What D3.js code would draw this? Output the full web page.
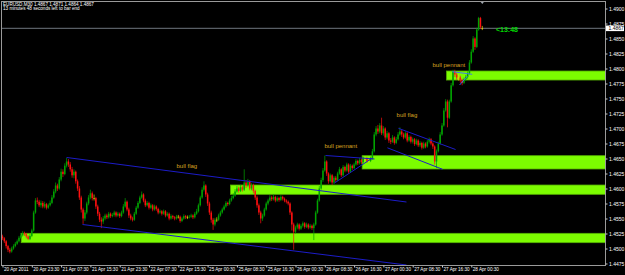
<!DOCTYPE html>
<html>
<head>
<meta charset="utf-8">
<script src="https://cdn.jsdelivr.net/npm/d3@7/dist/d3.min.js"></script>
<style>
  html, body { margin: 0; padding: 0; background: #000; overflow: hidden; }
  svg text { font-family: "Liberation Sans", Arial, sans-serif; }
</style>
</head>
<body>
<svg id="chart" width="625" height="275"></svg>
<script>
// EURUSD M30 — prices stored as pips above 1.4400
const base = 1.44, pip = 0.0001;

const opens = [
  120,117,112,104,98,95,100,104,108,112,118,122,126,124,120,116,121,130,160,180,
  178,172,176,170,174,168,172,176,185,195,205,200,215,228,224,238,245,240,232,222,
  228,212,200,185,165,150,160,175,185,192,184,184,170,158,148,145,150,155,152,158,
  154,156,160,155,158,154,160,170,178,165,155,150,148,158,168,176,185,190,180,172,
  176,168,172,165,170,166,160,162,158,162,155,158,150,154,152,150,153,153,146,150,
  154,152,152,153,155,152,158,162,172,185,198,205,190,175,160,148,140,148,148,155,
  160,165,170,176,174,180,184,188,195,200,196,202,198,210,205,212,200,206,196,185,
  172,160,150,155,165,175,180,185,182,186,180,184,181,186,183,180,178,175,160,140,
  128,135,140,133,138,142,136,140,135,138,134,140,160,180,200,214,230,245,225,212,
  222,210,218,214,225,232,222,236,230,240,228,238,234,240,246,242,248,244,250,250,
  246,246,250,262,290,300,295,305,292,300,285,292,280,278,285,276,282,290,295,290,
  285,292,280,286,278,282,274,280,272,276,268,275,270,278,282,275,270,245,262,275,
  290,305,330,345,318,345,372,395,390,385,385,380,376,382,386,392,410,428,450,436,
  465,484,467
];
const highs = [
  123,119,114,106,101,103,107,111,115,121,126,129,128,126,122,124,133,163,184,185,
  181,180,179,178,176,175,180,189,199,210,208,219,233,232,242,251,249,244,236,232,
  230,215,204,188,168,164,178,189,198,195,190,186,173,161,152,154,158,158,161,160,
  159,163,162,161,160,163,174,184,180,168,158,153,161,171,179,188,195,192,183,179,
  178,175,174,173,172,168,165,164,165,164,161,160,157,156,154,156,156,155,153,157,
  156,155,156,158,157,161,166,175,188,202,212,207,193,178,163,151,151,152,158,163,
  168,173,179,178,183,188,192,199,204,203,206,205,232,214,216,214,209,208,198,188,
  175,163,158,168,178,183,189,188,190,188,187,186,189,188,185,182,180,177,162,143,
  138,143,142,141,145,144,143,142,141,140,143,163,183,204,218,234,255,247,227,225,
  224,221,221,228,236,234,239,238,243,242,241,240,243,249,248,251,250,253,253,252,
  249,253,266,294,304,306,309,318,304,302,296,294,284,289,287,286,294,302,298,293,
  295,294,289,288,285,284,283,282,279,278,278,277,281,285,284,277,272,265,278,294,
  309,334,349,348,348,376,398,398,393,390,388,383,385,389,395,414,432,454,452,468,
  486,486,471
];
const lows = [
  114,109,100,94,92,93,98,102,106,110,116,120,121,117,114,114,119,128,158,174,
  169,168,167,167,165,166,170,174,183,192,196,198,212,219,222,235,236,228,218,217,
  208,196,181,160,141,146,157,172,182,180,180,166,154,144,134,141,147,149,150,151,
  152,153,152,153,151,152,158,168,162,151,147,145,146,156,166,174,183,177,169,170,
  165,166,162,163,163,157,158,155,156,152,153,147,148,149,147,148,150,143,144,148,
  149,149,150,151,149,150,156,160,170,183,195,186,171,156,143,131,137,144,146,153,
  158,163,168,171,172,178,182,186,193,193,194,195,196,201,203,197,197,192,181,168,
  156,142,146,153,163,172,178,179,180,177,178,178,179,180,177,175,172,156,130,98,
  125,132,130,131,135,133,134,132,133,131,114,138,158,178,198,211,228,221,208,210,
  206,207,211,212,223,219,220,227,228,225,226,231,232,238,239,240,241,242,247,243,
  243,244,248,260,287,291,292,289,288,281,282,276,274,276,273,274,280,288,286,282,
  283,277,278,275,275,271,272,269,269,265,266,267,268,275,272,266,240,234,260,273,
  288,303,328,302,316,343,370,386,381,380,376,372,374,379,383,390,408,426,431,434,
  463,466,464
];
const closes = [
  117,112,104,98,95,100,104,108,112,118,122,126,124,120,116,121,130,160,180,178,
  172,176,170,174,168,172,176,185,195,205,200,215,228,224,238,245,240,232,222,228,
  212,200,185,165,150,160,175,185,192,184,184,170,158,148,145,150,155,152,158,154,
  156,160,155,158,154,160,170,178,165,155,150,148,158,168,176,185,190,180,172,176,
  168,172,165,170,166,160,162,158,162,155,158,150,154,152,150,153,153,146,150,154,
  152,152,153,155,152,158,162,172,185,198,205,190,175,160,148,140,148,148,155,160,
  165,170,176,174,180,184,188,195,200,196,202,198,210,205,212,200,206,196,185,172,
  160,150,155,165,175,180,185,182,186,180,184,181,186,183,180,178,175,160,140,128,
  135,140,133,138,142,136,140,135,138,134,140,160,180,200,214,230,245,225,212,222,
  210,218,214,225,232,222,236,230,240,228,238,234,240,246,242,248,244,250,250,246,
  246,250,262,290,300,295,305,292,300,285,292,280,278,285,276,282,290,295,290,285,
  292,280,286,278,282,274,280,272,276,268,275,270,278,282,275,270,245,262,275,290,
  305,330,345,318,345,372,395,390,385,385,380,376,382,386,392,410,428,450,436,465,
  484,469,467
];

// one time label every 16 bars
const timeLabels = [
  "20 Apr 2011","20 Apr 23:30","21 Apr 07:30","21 Apr 15:30","21 Apr 23:30",
  "22 Apr 07:30","22 Apr 15:30","25 Apr 00:30","25 Apr 08:30","25 Apr 16:30",
  "26 Apr 00:30","26 Apr 08:30","26 Apr 16:30","27 Apr 00:30","27 Apr 08:30",
  "27 Apr 16:30","28 Apr 00:30"
];
const priceTicks = [1.4900,1.4875,1.4850,1.4825,1.4800,1.4775,1.4750,1.4725,1.4700,
  1.4675,1.4650,1.4625,1.4600,1.4575,1.4550,1.4525,1.4500,1.4475];

// support / resistance zones: start bar, low, high
const zoneStart = [10.2, 124.5, 196.4, 242.5];
const zoneLow   = [1.45097, 1.45903, 1.46325, 1.47808];
const zoneHigh  = [1.45253, 1.46058, 1.46547, 1.47958];

// trend lines: [bar1, price1, bar2, price2]
const trendLines = [
  [35.0, 1.46517, 220.6, 1.45775],
  [43.7, 1.45400, 220.6, 1.44725],
  [176.4, 1.46550, 203.1, 1.46492],
  [181.3, 1.46092, 202.0, 1.46508],
  [216.2, 1.47003, 247.4, 1.46650],
  [210.2, 1.46678, 240.3, 1.46320]
];
const pennantLines = [
  [245.6, 1.47947, 256.5, 1.47903],
  [249.6, 1.47725, 253.9, 1.47875]
];
const noteText  = ["bull flag", "bull pennant", "bull flag", "bull pennant"];
const noteBar   = [95.0, 175.8, 215.2, 234.8];
const notePrice = [1.46342, 1.46675, 1.47192, 1.48025];

const lastPrice = 1.4867;
const header1 = "EURUSD,M30  1.4867 1.4871 1.4864 1.4867";
const header2 = "13 minutes 48 seconds left to bar end";
const timer = "<13:48";

// ---------- drawing ----------
const svg = d3.select('#chart');
const L = 1.5, R = 605.5, T = 1.5, B = 265.5;

const x = d3.scaleLinear().domain([0, 320]).range([2.5, 2.5 + 320 * 29.3 / 16]);
const y = d3.scaleLinear().domain([1.4475, 1.4900]).range([263.5, 8.5]);
const px = v => base + v * pip;

svg.append('rect').attr('width', 625).attr('height', 275).attr('fill', '#000');

const plot = svg.append('g');
plot.append('clipPath').attr('id', 'clip')
  .append('rect').attr('x', L).attr('y', T).attr('width', R - L).attr('height', B - T);
const inner = plot.append('g').attr('clip-path', 'url(#clip)');

// zones
inner.selectAll('rect.zone').data(zoneStart).enter().append('rect')
  .attr('class', 'zone')
  .attr('x', d => x(d))
  .attr('y', (d, i) => y(zoneHigh[i]))
  .attr('width', d => R - x(d))
  .attr('height', (d, i) => y(zoneLow[i]) - y(zoneHigh[i]))
  .attr('fill', '#7cfc00')
  .attr('stroke', '#55b000').attr('stroke-width', 0.8);

// current price line
inner.append('line')
  .attr('x1', L).attr('x2', R)
  .attr('y1', y(lastPrice)).attr('y2', y(lastPrice))
  .attr('stroke', '#8a94a0').attr('stroke-width', 0.8);

// candles
const bars = d3.range(closes.length);
const col = i => closes[i] > opens[i] ? '#00a400' : closes[i] < opens[i] ? '#ff1010' : '#e8d000';
inner.selectAll('line.wick').data(bars).enter().append('line')
  .attr('class', 'wick')
  .attr('x1', i => x(i)).attr('x2', i => x(i))
  .attr('y1', i => y(px(highs[i]))).attr('y2', i => y(px(lows[i])))
  .attr('stroke', col).attr('stroke-width', 0.7);
inner.selectAll('rect.body').data(bars).enter().append('rect')
  .attr('class', 'body')
  .attr('x', i => x(i) - 0.75).attr('width', 1.5)
  .attr('y', i => y(px(Math.max(opens[i], closes[i]))))
  .attr('height', i => Math.max(0.7, Math.abs(y(px(opens[i])) - y(px(closes[i])))))
  .attr('fill', col);

// trend lines
inner.selectAll('line.trend').data(trendLines).enter().append('line')
  .attr('x1', d => x(d[0])).attr('y1', d => y(d[1]))
  .attr('x2', d => x(d[2])).attr('y2', d => y(d[3]))
  .attr('stroke', '#1c1cc8').attr('stroke-width', 1);
inner.selectAll('line.pen').data(pennantLines).enter().append('line')
  .attr('x1', d => x(d[0])).attr('y1', d => y(d[1]))
  .attr('x2', d => x(d[2])).attr('y2', d => y(d[3]))
  .attr('stroke', '#3a6cff').attr('stroke-width', 0.9);

// annotations
inner.selectAll('text.note').data(noteText).enter().append('text')
  .attr('x', (d, i) => x(noteBar[i])).attr('y', (d, i) => y(notePrice[i]))
  .attr('fill', '#daa520').attr('font-size', 6).text(d => d);

inner.append('text')
  .attr('x', 496).attr('y', 32)
  .attr('fill', '#00d800').attr('font-size', 7).attr('font-weight', 'bold')
  .text(timer);

// chart shift marker
svg.append('path')
  .attr('d', `M${x(closes.length - 1) - 2},1.5 L${x(closes.length - 1) + 2},1.5 L${x(closes.length - 1)},4 Z`)
  .attr('fill', '#a0a8b0');

// frame
svg.append('rect').attr('x', L).attr('y', T).attr('width', R - L).attr('height', B - T)
  .attr('fill', 'none').attr('stroke', '#9a9a9a').attr('stroke-width', 1);

// price axis
const yAxis = svg.append('g').attr('transform', `translate(${R},0)`)
  .call(d3.axisRight(y).tickValues(priceTicks).tickFormat(d3.format('.4f')).tickSize(2).tickPadding(1.5));
yAxis.select('.domain').remove();
yAxis.selectAll('line').attr('stroke', '#ccc');
yAxis.selectAll('text').attr('fill', '#fff').attr('font-size', 5).attr('font-family', 'Liberation Sans, Arial, sans-serif');

// current price box
svg.append('rect').attr('x', R + 0.5).attr('y', y(lastPrice) - 2.8).attr('width', 18).attr('height', 5.6)
  .attr('fill', '#fff');
svg.append('text').attr('x', R + 3).attr('y', y(lastPrice) + 1.8)
  .attr('fill', '#000').attr('font-size', 5).text(d3.format('.4f')(lastPrice));

// time axis
const labelBars = timeLabels.map((d, i) => i * 16);
const xAxis = svg.append('g').attr('transform', `translate(0,${B})`)
  .call(d3.axisBottom(x).tickValues(labelBars).tickFormat((d, i) => timeLabels[i]).tickSize(2).tickPadding(1));
xAxis.select('.domain').remove();
xAxis.selectAll('line').attr('stroke', '#ccc');
xAxis.selectAll('text').attr('fill', '#fff').attr('font-size', 4.6)
  .attr('text-anchor', 'start').attr('dx', 1).attr('dy', '0.5em')
  .attr('font-family', 'Liberation Sans, Arial, sans-serif');

// header
svg.append('text').attr('x', 3).attr('y', 6.2).attr('fill', '#fff').attr('font-size', 4.6).text(header1);
svg.append('text').attr('x', 3).attr('y', 10.2).attr('fill', '#fff').attr('font-size', 4.6).text(header2);
</script>
</body>
</html>
